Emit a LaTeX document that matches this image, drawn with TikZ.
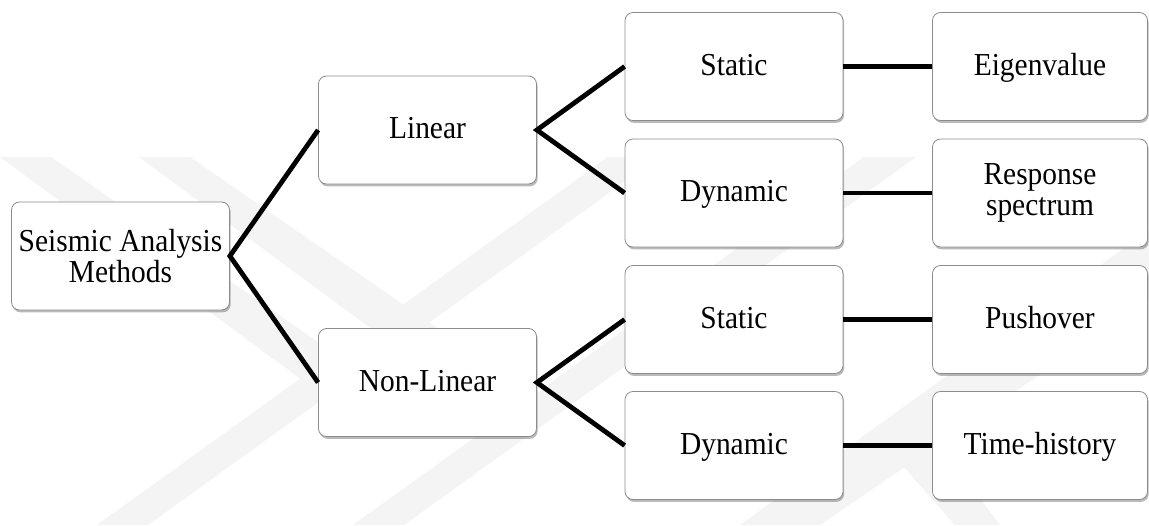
\documentclass[tikz,border=0pt]{standalone}
\usepackage{fontspec}
\setmainfont{Liberation Serif}
\newfontfamily\boxfont[FakeStretch=0.92]{Liberation Serif}
\usetikzlibrary{shadows}
\tikzset{
  box/.style={draw=black!45, line width=0.8pt, rounded corners=8pt, fill=white,
    minimum width=218pt, minimum height=108pt, align=center, inner sep=2pt,
    font=\boxfont\fontsize{32}{31.5}\selectfont,
    drop shadow={shadow xshift=1.2pt, shadow yshift=-2.4pt, opacity=0.45, fill=black!60}},
  oneline/.style={text height=22pt, text depth=5pt},
  link/.style={line width=4.8pt, black},
  wm/.style={fill=black!4.5, draw=none}
}
\begin{document}
\begin{tikzpicture}[x=1pt, y=-1pt]
\useasboundingbox (0,0) rectangle (1149,525);
\fill[white] (0,0) rectangle (1149,525);
% watermark
\begin{scope}
\clip (0,157) rectangle (1149,525);
\fill[wm] (0,157) -- (51,157) -- (380,385) -- (329,400) -- cycle;
\fill[wm] (139,157) -- (190,157) -- (440,330) -- (400,350) -- cycle;
\fill[wm] (608,157) -- (659,157) -- (148,525) -- (97,525) -- cycle;
\fill[wm] (864,157) -- (916,157) -- (404,525) -- (353,525) -- cycle;
\fill[wm] (1149,230) -- (1149,300) -- (820,525) -- (740,525) -- cycle;
\fill[wm] (880,440) -- (920,420) -- (1000,525) -- (955,525) -- cycle;
\end{scope}
% nodes
\node[box] (root) at (120.5,256) {Seismic Analysis\\Methods};
\node[box, oneline] (lin) at (427.5,130) {Linear};
\node[box, oneline] (nl) at (427.5,382.5) {Non-Linear};
\node[box, oneline] (s1) at (734,66.5) {Static};
\node[box, oneline] (d1) at (734,193) {Dynamic};
\node[box, oneline] (s2) at (734,319.5) {Static};
\node[box, oneline] (d2) at (734,445.5) {Dynamic};
\node[box, oneline, minimum width=215pt] (eig) at (1040,66.5) {Eigenvalue};
\node[box, minimum width=215pt] (rs) at (1040,193) {Response\\spectrum};
\node[box, oneline, minimum width=215pt] (po) at (1040,319.5) {Pushover};
\node[box, oneline, minimum width=215pt] (th) at (1040,445.5) {Time-history};
% connectors
\draw[link] (lin.west) -- (root.east) -- (nl.west);
\draw[link] (s1.west) -- (lin.east) -- (d1.west);
\draw[link] (s2.west) -- (nl.east) -- (d2.west);
\draw[link] (s1) -- (eig);
\draw[link] (d1) -- (rs);
\draw[link] (s2) -- (po);
\draw[link] (d2) -- (th);
\end{tikzpicture}
\end{document}
